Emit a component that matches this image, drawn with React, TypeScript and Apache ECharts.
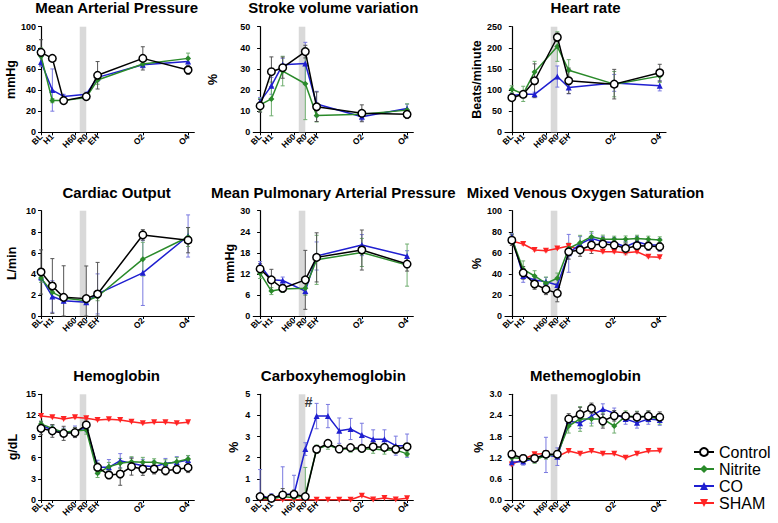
import React, { useEffect, useRef } from "react";
import * as echarts from "echarts";

// ---------- DATA ----------
const TICK_POS = [0, 1, 3, 4, 5, 9, 13];
const TICK_TEXT = ["BL", "H1", "H60", "R0", "EH", "O2", "O4"];
const X_SHORT = [0, 1, 2, 4, 5, 9, 13];
const X_FULL = [0, 1, 2, 3, 4, 5, 6, 7, 8, 9, 10, 11, 12, 13];
const BAND = [3.42, 4.0];
const GROUPS = ["Control", "Nitrite", "CO", "SHAM"];

// Mean Arterial Pressure (mmHg)
const mapControl = [75.7, 70, 30, 33.8, 54, 70, 59];
const mapControlErr = [12, 2, 2, 3, 13, 11, 4];
const mapNitrite = [72, 30, 30, 33, 49.5, 64.7, 70];
const mapNitriteErr = [8, 2, 2, 2, 4, 3, 5];
const mapCO = [66.5, 40, 34, 36, 52, 64, 67];
const mapCOErr = [4, 20, 2, 2, 4, 3, 4];

// Stroke volume variation (%)
const svvControl = [12.5, 28.7, 30.6, 38.2, 12.1, 9, 8.5];
const svvControlErr = [3, 7, 5, 3, 7, 4, 2];
const svvNitrite = [13, 15.8, 29, 23, 7.9, 8.5, 10.5];
const svvNitriteErr = [3, 8, 7, 17, 3, 2, 3];
const svvCO = [14.5, 22, 32, 32.6, 13.4, 7.4, 11.3];
const svvCOErr = [2, 4, 3, 10, 6, 2, 2];

// Heart rate (beats/minute)
const hrControl = [82, 90, 122, 225, 122, 114, 141];
const hrControlErr = [5, 6, 40, 10, 30, 35, 20];
const hrNitrite = [102, 91, 143, 203, 147, 114, 133];
const hrNitriteErr = [8, 18, 25, 35, 25, 30, 15];
const hrCO = [87, 90, 90, 132, 106, 117, 110];
const hrCOErr = [5, 5, 5, 25, 15, 20, 12];

// Cardiac Output (L/min)
const coControl = [4.18, 2.85, 1.77, 1.65, 2.09, 7.7, 7.2];
const coControlErr = [2.1, 2.6, 3, 3.1, 3, 0.5, 1.2];
const coNitrite = [3.6, 2.25, 1.7, 1.45, 1.85, 5.4, 7.5];
const coNitriteErr = [0.4, 0.5, 0.3, 0.2, 0.4, 1.6, 0.9];
const coCO = [3.67, 1.85, 1.45, 1.3, 2.1, 4.1, 7.6];
const coCOErr = [0.3, 1.5, 0.2, 0.1, 1.9, 3.1, 2.0];

// Mean Pulmonary Arterial Pressure (mmHg)
const mpapControl = [13.4, 10.3, 7.9, 10.3, 16.7, 18.8, 14.8];
const mpapControlErr = [1.5, 3, 1, 8.4, 7, 5.7, 2];
const mpapNitrite = [12.2, 7.1, 7.7, 7.9, 16, 18.1, 14.5];
const mpapNitriteErr = [1.5, 1, 1, 2, 7, 4, 6];
const mpapCO = [14.5, 10.3, 10.1, 7.1, 17.1, 20.2, 17.1];
const mpapCOErr = [1, 1, 1, 1, 4, 3, 1.5];

// Mixed Venous Oxygen Saturation (%)
const svoControl = [72, 41, 30.4, 25.3, 21.5, 61, 62.7, 67.4, 68.4, 67.4, 64.2, 66.8, 66.5, 65.8];
const svoControlErr = [5, 6, 5, 5, 8, 7, 6, 8, 6, 5, 5, 5, 4, 4];
const svoNitrite = [73.7, 44.3, 38, 31, 35.8, 64.2, 69.6, 75.3, 72.8, 72.8, 73, 73.7, 72.8, 72.2];
const svoNitriteErr = [4, 8, 5, 6, 5, 5, 7, 5, 4, 3, 3, 3, 3, 3];
const svoCO = [75.3, 38, 34.2, 32.6, 29.4, 59.5, 68.4, 73.7, 70.6, 69.6, 65.8, 70.6, 67.4, 67.4];
const svoCOErr = [3, 6, 4, 4, 5, 18, 7, 5, 5, 5, 5, 5, 5, 6];
const svoSham = [71.2, 68.4, 62.7, 62, 64.2, 66.5, 62.7, 62.7, 61, 61, 60, 61, 56.3, 55.7];
const svoShamErr = [2, 1, 1, 1, 1, 1, 1, 1, 1, 1, 2, 1, 1, 1];

// Hemoglobin (g/dL)
const hbControl = [10.17, 9.8, 9.46, 9.56, 10.65, 4.64, 3.55, 3.69, 4.73, 4.4, 4.4, 4.16, 4.35, 4.59];
const hbControlErr = [0.9, 0.9, 1.0, 0.7, 0.7, 0.6, 0.5, 1.6, 1.2, 0.9, 0.7, 0.6, 0.6, 0.7];
const hbNitrite = [10.8, 10.17, 9.6, 9.8, 9.94, 3.79, 4.73, 5.2, 5.44, 5.35, 5.35, 5.1, 5.44, 5.82];
const hbNitriteErr = [0.4, 0.5, 0.5, 0.5, 0.6, 0.6, 0.6, 0.7, 0.7, 0.7, 0.5, 0.6, 0.6, 0.5];
const hbCO = [10.65, 9.94, 9.6, 9.7, 10.27, 4.64, 4.64, 5.58, 5.2, 4.87, 4.73, 5.2, 5.35, 5.68];
const hbCOErr = [0.5, 0.6, 0.6, 0.8, 0.6, 1.0, 1.1, 1.0, 0.8, 0.9, 0.8, 0.7, 0.8, 0.6];
const hbSham = [11.93, 11.74, 11.5, 11.74, 11.6, 11.36, 11.45, 11.36, 11.12, 10.89, 11.03, 11.03, 10.89, 11.03];
const hbShamErr = [0.1, 0.1, 0.1, 0.1, 0.1, 0.1, 0.1, 0.1, 0.1, 0.1, 0.1, 0.1, 0.1, 0.1];

// Carboxyhemoglobin (%)
const cohbControl = [0.16, 0.08, 0.24, 0.27, 0.16, 2.4, 2.68, 2.41, 2.48, 2.44, 2.52, 2.49, 2.4, 2.52];
const cohbControlErr = [0.1, 0.1, 0.3, 0.2, 0.1, 0.15, 0.15, 0.15, 0.1, 0.1, 0.1, 0.1, 0.1, 0.1];
const cohbNitrite = [0.08, 0.05, 0.16, 0.11, 0.24, 2.4, 2.6, 2.41, 2.41, 2.41, 2.41, 2.37, 2.37, 2.18];
const cohbNitriteErr = [0.05, 0.15, 0.1, 0.1, 1.3, 0.2, 0.2, 0.15, 0.15, 0.15, 0.2, 0.2, 0.15, 0.1];
const cohbCO = [0.24, 0.05, 0.27, 0.27, 2.41, 3.97, 3.97, 3.28, 3.36, 3.08, 2.87, 2.87, 2.57, 2.57];
const cohbCOErr = [1.2, 0.25, 1.3, 0.9, 0.3, 0.6, 0.55, 0.6, 0.5, 0.55, 0.45, 0.45, 0.45, 0.55];
const cohbSham = [0.01, 0.01, 0.01, 0.01, 0.01, 0.01, 0.01, 0.01, 0.01, 0.2, 0.02, 0.1, 0.02, 0.08];
const cohbShamErr = [0, 0, 0, 0, 0, 0, 0, 0, 0, 0.03, 0, 0.02, 0, 0.02];
const HASH_AT = [4.3, 4.65];

// Methemoglobin (%)
const methControl = [1.3, 1.18, 1.18, 1.3, 1.3, 2.3, 2.43, 2.6, 2.24, 2.39, 2.38, 2.35, 2.38, 2.35];
const methControlErr = [0.1, 0.1, 0.1, 0.1, 0.1, 0.15, 0.2, 0.15, 0.2, 0.15, 0.1, 0.15, 0.15, 0.15];
const methNitrite = [1.2, 1.18, 1.14, 1.26, 1.3, 2.1, 2.3, 2.3, 2.3, 2.1, 2.38, 2.37, 2.37, 2.3];
const methNitriteErr = [0.1, 0.1, 0.1, 0.1, 0.1, 0.2, 0.35, 0.2, 0.2, 0.2, 0.15, 0.15, 0.15, 0.15];
const methCO = [1.07, 1.09, 1.18, 1.28, 1.23, 2.24, 2.18, 2.38, 2.58, 2.46, 2.3, 2.19, 2.3, 2.27];
const methCOErr = [0.1, 0.1, 0.1, 0.5, 0.25, 0.15, 0.15, 0.2, 0.15, 0.15, 0.15, 0.15, 0.15, 0.15];
const methSham = [1.01, 1.16, 1.3, 1.32, 1.23, 1.39, 1.31, 1.39, 1.31, 1.31, 1.2, 1.31, 1.39, 1.4];
const methShamErr = [0.03, 0.03, 0.03, 0.03, 0.03, 0.03, 0.03, 0.03, 0.03, 0.03, 0.03, 0.03, 0.03, 0.03];

// ---------- LAYOUT / STYLE ----------
const FONT = "'Liberation Sans', Arial, Helvetica, sans-serif";
const COLS = [
  { left: 39, width: 155.3, xMin: -0.18 },
  { left: 253.3, width: 160, xMin: -0.6 },
  { left: 505, width: 161, xMin: -0.6 },
];
const ROWS = [
  { top: 26.7, height: 105.6, titleTop: 0 },
  { top: 210.7, height: 105.3, titleTop: 184.6 },
  { top: 394.3, height: 105.7, titleTop: 368.3 },
];
const X_MAX = 13.55;

const STYLE: Record<string, any> = {
  Control: { line: "#000000", fill: "#ffffff", err: "#555555", symbol: "circle", size: 7.5, rotate: 0, z: 6 },
  Nitrite: { line: "#2a8a2a", fill: "#2a8a2a", err: "#6fae6f", symbol: "diamond", size: 6, rotate: 0, z: 5 },
  CO: { line: "#1f1fd0", fill: "#1f1fd0", err: "#7a7ae0", symbol: "triangle", size: 6, rotate: 0, z: 4 },
  SHAM: { line: "#ff2424", fill: "#ff2424", err: "#ff8a8a", symbol: "triangle", size: 6, rotate: 180, z: 3 },
};

type Panel = {
  title: string;
  unit: string;
  max: number;
  step: number;
  gap: number;
  dec: number;
  x: number[];
  data: Record<string, [number[], number[]]>;
};

const PANELS: Panel[] = [
  { title: "Mean Arterial Pressure", unit: "mmHg", max: 100, step: 20, gap: 21, dec: 0, x: X_SHORT,
    data: { Control: [mapControl, mapControlErr], Nitrite: [mapNitrite, mapNitriteErr], CO: [mapCO, mapCOErr] } },
  { title: "Stroke volume variation", unit: "%", max: 50, step: 10, gap: 34, dec: 0, x: X_SHORT,
    data: { Control: [svvControl, svvControlErr], Nitrite: [svvNitrite, svvNitriteErr], CO: [svvCO, svvCOErr] } },
  { title: "Heart rate", unit: "Beats/minute", max: 250, step: 50, gap: 19, dec: 0, x: X_SHORT,
    data: { Control: [hrControl, hrControlErr], Nitrite: [hrNitrite, hrNitriteErr], CO: [hrCO, hrCOErr] } },
  { title: "Cardiac Output", unit: "L/min", max: 10, step: 2, gap: 21, dec: 0, x: X_SHORT,
    data: { Control: [coControl, coControlErr], Nitrite: [coNitrite, coNitriteErr], CO: [coCO, coCOErr] } },
  { title: "Mean Pulmonary Arterial Pressure", unit: "mmHg", max: 30, step: 6, gap: 14, dec: 0, x: X_SHORT,
    data: { Control: [mpapControl, mpapControlErr], Nitrite: [mpapNitrite, mpapNitriteErr], CO: [mpapCO, mpapCOErr] } },
  { title: "Mixed Venous Oxygen Saturation", unit: "%", max: 100, step: 20, gap: 21, dec: 0, x: X_FULL,
    data: { Control: [svoControl, svoControlErr], Nitrite: [svoNitrite, svoNitriteErr], CO: [svoCO, svoCOErr], SHAM: [svoSham, svoShamErr] } },
  { title: "Hemoglobin", unit: "g/dL", max: 15, step: 3, gap: 20, dec: 0, x: X_FULL,
    data: { Control: [hbControl, hbControlErr], Nitrite: [hbNitrite, hbNitriteErr], CO: [hbCO, hbCOErr], SHAM: [hbSham, hbShamErr] } },
  { title: "Carboxyhemoglobin", unit: "%", max: 5, step: 1, gap: 13, dec: 0, x: X_FULL,
    data: { Control: [cohbControl, cohbControlErr], Nitrite: [cohbNitrite, cohbNitriteErr], CO: [cohbCO, cohbCOErr], SHAM: [cohbSham, cohbShamErr] } },
  { title: "Methemoglobin", unit: "%", max: 3, step: 0.6, gap: 13, dec: 1, x: X_FULL,
    data: { Control: [methControl, methControlErr], Nitrite: [methNitrite, methNitriteErr], CO: [methCO, methCOErr], SHAM: [methSham, methShamErr] } },
];

const labelOf = (v: number) => {
  const k = TICK_POS.indexOf(Math.round(v));
  return k >= 0 ? TICK_TEXT[k] : "";
};

function xLabelStyle(values: number[]) {
  return {
    show: true,
    customValues: values,
    hideOverlap: false,
    rotate: 45,
    margin: 3,
    fontFamily: FONT,
    fontWeight: "bold",
    fontSize: 8.5,
    color: "#000",
    formatter: labelOf,
  };
}

function buildOption() {
  const grid: any[] = [];
  const xAxis: any[] = [];
  const xAxis2: any[] = [];
  const yAxis: any[] = [];
  const title: any[] = [];
  const series: any[] = [];

  PANELS.forEach((p, i) => {
    const col = COLS[i % 3];
    const row = ROWS[Math.floor(i / 3)];
    grid.push({ left: col.left, top: row.top, width: col.width, height: row.height, containLabel: false });
    title.push({
      text: p.title,
      left: col.left + col.width / 2,
      top: row.titleTop,
      textAlign: "center",
      padding: 0,
      textStyle: { fontFamily: FONT, fontWeight: "bold", fontSize: 15, color: "#000" },
    });
    xAxis.push({
      type: "value",
      gridIndex: i,
      position: "bottom",
      min: col.xMin,
      max: X_MAX,
      splitLine: { show: false },
      axisLine: { show: true, onZero: false, lineStyle: { color: "#000", width: 1.2 } },
      axisTick: { show: true, length: 3, customValues: TICK_POS, lineStyle: { color: "#000", width: 1 } },
      axisLabel: xLabelStyle(TICK_POS.slice(1)),
    });
    // second, overlaid axis only carries the first label (BL) so it is never auto-hidden
    xAxis2.push({
      type: "value",
      gridIndex: i,
      position: "bottom",
      offset: 0,
      min: col.xMin,
      max: X_MAX,
      splitLine: { show: false },
      axisLine: { show: false, onZero: false },
      axisTick: { show: false },
      axisLabel: xLabelStyle(TICK_POS.slice(0, 1)),
    });
    yAxis.push({
      type: "value",
      gridIndex: i,
      min: 0,
      max: p.max,
      interval: p.step,
      name: p.unit,
      nameLocation: "middle",
      nameGap: p.gap,
      nameTextStyle: { fontFamily: FONT, fontWeight: "bold", fontSize: 12.5, color: "#000" },
      splitLine: { show: false },
      axisLine: { show: true, lineStyle: { color: "#000", width: 1.2 } },
      axisTick: { show: true, length: 3, lineStyle: { color: "#000", width: 1 } },
      axisLabel: {
        margin: 3,
        fontFamily: FONT,
        fontWeight: "bold",
        fontSize: 9,
        color: "#000",
        formatter: (v: number) => v.toFixed(p.dec),
      },
    });

    // grey band
    series.push({
      type: "custom",
      xAxisIndex: i,
      yAxisIndex: i,
      silent: true,
      z: 1,
      data: [[BAND[0], BAND[1]]],
      encode: { x: [0, 1] },
      renderItem: (_params: any, api: any) => {
        const a = api.coord([api.value(0), p.max]);
        const b = api.coord([api.value(1), 0]);
        return {
          type: "rect",
          shape: { x: a[0], y: a[1], width: b[0] - a[0], height: b[1] - a[1] },
          style: { fill: "#d9d9d9" },
        };
      },
    });

    ["SHAM", "CO", "Nitrite", "Control"].forEach((g) => {
      const d = p.data[g];
      if (!d) return;
      const [vals, errs] = d;
      const st = STYLE[g];
      series.push({
        type: "custom",
        xAxisIndex: i,
        yAxisIndex: i,
        silent: true,
        z: 2,
        data: p.x.map((xv, k) => [xv, vals[k], errs[k]]),
        encode: { x: 0, y: 1 },
        renderItem: (_params: any, api: any) => {
          const xv = api.value(0);
          const yv = api.value(1);
          const e = api.value(2);
          const t = api.coord([xv, Math.min(yv + e, p.max)]);
          const b = api.coord([xv, Math.max(yv - e, 0)]);
          const c = 2;
          const s = { stroke: st.err, lineWidth: 1 };
          return {
            type: "group",
            children: [
              { type: "line", shape: { x1: t[0], y1: t[1], x2: b[0], y2: b[1] }, style: s },
              { type: "line", shape: { x1: t[0] - c, y1: t[1], x2: t[0] + c, y2: t[1] }, style: s },
              { type: "line", shape: { x1: b[0] - c, y1: b[1], x2: b[0] + c, y2: b[1] }, style: s },
            ],
          };
        },
      });
      series.push({
        type: "line",
        name: g,
        xAxisIndex: i,
        yAxisIndex: i,
        z: st.z,
        data: p.x.map((xv, k) => [xv, vals[k]]),
        symbol: st.symbol,
        symbolSize: st.size,
        symbolRotate: st.rotate,
        showAllSymbol: true,
        color: st.line,
        lineStyle: { color: st.line, width: 1.5 },
        itemStyle: { color: st.fill, borderColor: st.line, borderWidth: g === "Control" ? 1.5 : 0 },
        emphasis: { disabled: true },
      });
    });

    if (p.title === "Carboxyhemoglobin") {
      series.push({
        type: "scatter",
        xAxisIndex: i,
        yAxisIndex: i,
        silent: true,
        z: 7,
        symbolSize: 0,
        data: [HASH_AT],
        label: {
          show: true,
          position: "inside",
          formatter: "#",
          fontFamily: FONT,
          fontWeight: "bold",
          fontSize: 14,
          color: "#000",
        },
      });
    }
  });

  return {
    animation: false,
    backgroundColor: "#ffffff",
    title,
    grid,
    xAxis: xAxis.concat(xAxis2),
    yAxis,
    series,
    legend: {
      data: GROUPS,
      orient: "vertical",
      left: 693,
      top: 444,
      padding: 0,
      itemGap: 1,
      itemWidth: 20,
      itemHeight: 10,
      selectedMode: false,
      textStyle: { fontFamily: FONT, fontSize: 16, color: "#000", lineHeight: 16 },
    },
  };
}

export default function App() {
  const ref = useRef<HTMLDivElement>(null);
  useEffect(() => {
    if (!ref.current) return;
    const chart = echarts.init(ref.current, undefined, { renderer: "svg" });
    chart.setOption(buildOption() as any);
    return () => chart.dispose();
  }, []);
  return (
    <div
      ref={ref}
      style={{ position: "fixed", left: 0, top: 0, width: 778, height: 523, background: "#fff" }}
    />
  );
}
